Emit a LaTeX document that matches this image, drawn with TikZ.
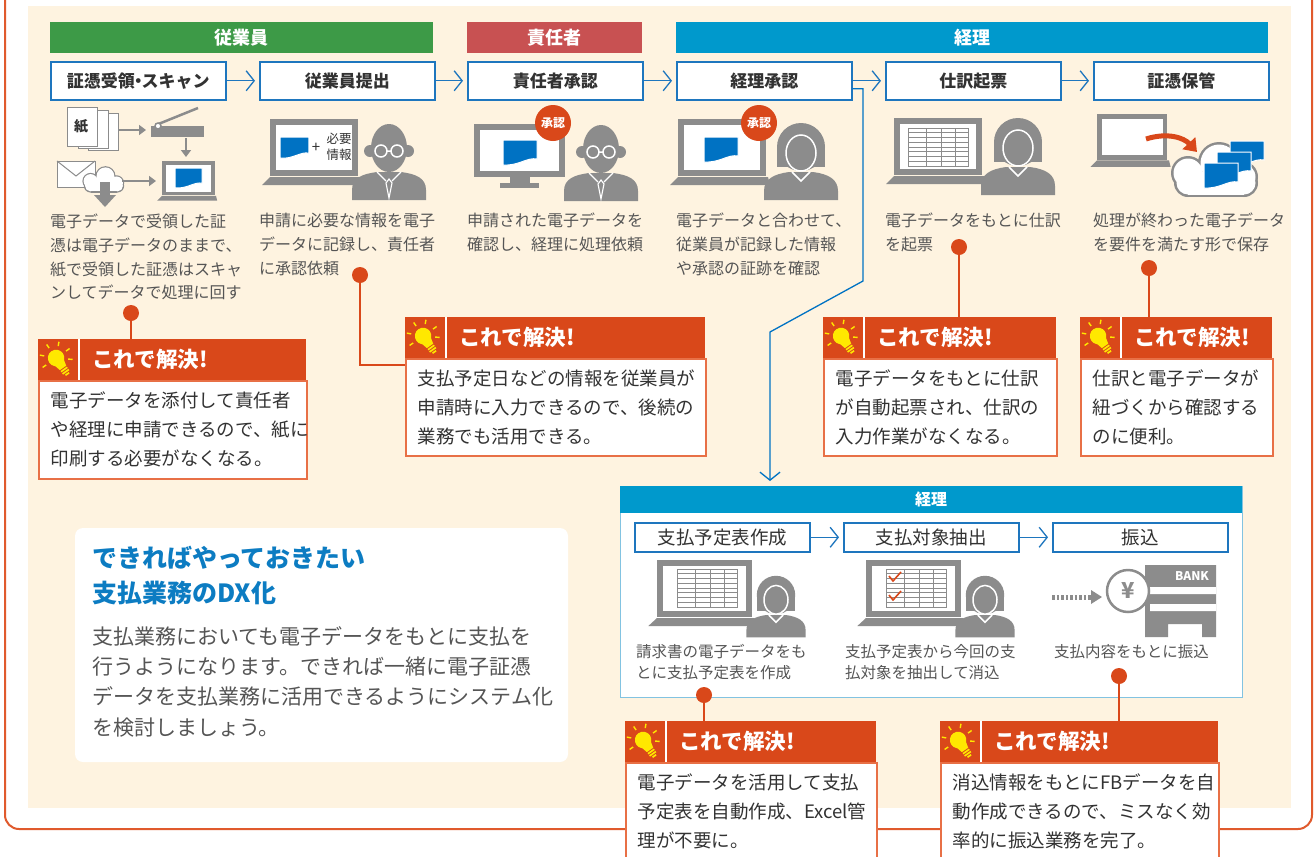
\documentclass[tikz,border=0pt]{standalone}
\usepackage{fontspec}
\setmainfont{Noto Sans CJK JP}
\usetikzlibrary{arrows.meta}

\definecolor{cream}{RGB}{254,243,224}
\definecolor{frameorange}{RGB}{224,90,45}
\definecolor{solorange}{RGB}{217,72,26}
\definecolor{solline}{RGB}{232,112,70}
\definecolor{empgreen}{RGB}{61,154,71}
\definecolor{mgrred}{RGB}{200,81,82}
\definecolor{acctblue}{RGB}{0,153,204}
\definecolor{boxblue}{RGB}{30,118,190}
\definecolor{paleblue}{RGB}{130,195,225}
\definecolor{docblue}{RGB}{0,114,195}
\definecolor{titleblue}{RGB}{12,124,194}
\definecolor{icongray}{RGB}{140,140,140}
\definecolor{descgray}{RGB}{85,85,85}
\definecolor{bodygray}{RGB}{50,50,50}
\definecolor{bulbyellow}{RGB}{255,232,0}

\begin{document}
\begin{tikzpicture}[x=1pt, y=-1pt,
lane/.style={fill=#1, text=white, anchor=north west, inner sep=0pt, minimum height=31pt, font=\fontsize{18}{18}\selectfont\bfseries},
stepbox/.style={draw=boxblue, line width=1.6pt, fill=white, anchor=north west, minimum width=175pt, minimum height=38pt, inner sep=0pt, text=bodygray, font=\fontsize{17}{17}\selectfont\bfseries},
substep/.style={stepbox, minimum height=29pt, font=\fontsize{18.5}{18.5}\selectfont},
flow/.style={draw=boxblue, line width=1.3pt, shorten >=4pt, -{Straight Barb[length=8pt,width=20pt]}},
garrow/.style={draw=icongray, line width=2.5pt, -{Triangle[length=7pt,width=10pt]}},
desc/.style={anchor=north west, align=left, inner sep=0pt, text=descgray, font=\fontsize{16}{23.7}\selectfont},
smalldesc/.style={desc, font=\fontsize{15.5}{21.5}\selectfont},
dot/.style={circle, fill=solorange, inner sep=0pt, minimum size=16pt},
link/.style={draw=solorange, line width=2.5pt},
badge/.style={circle, fill=solorange, text=white, inner sep=0pt, minimum size=36pt, font=\fontsize{12}{12}\selectfont\bfseries},
solhead/.style={fill=solorange, anchor=north west, inner sep=0pt, minimum height=41pt},
soltitle/.style={anchor=west, inner sep=0pt, text=white, font=\fontsize{21.5}{21.5}\selectfont\bfseries},
solbody/.style={draw=solline, line width=1.5pt, fill=white, anchor=north west, inner xsep=12pt, inner ysep=0pt, align=left, text=bodygray, font=\fontsize{18.5}{29}\selectfont},
pics/laptop/.style={code={
  \fill[icongray] (0,0) rectangle (88,57);
  \fill[white] (6,6) rectangle (82,51);
  \fill[icongray] (0,58) -- (90,58) -- (92,66) -- (-8,66) -- cycle;
}},
pics/monitor/.style={code={
  \fill[icongray] (0,0) rectangle (91,53);
  \fill[white] (6,6) rectangle (85,47);
  \fill[icongray] (36,53) rectangle (56,59);
  \fill[icongray] (26,59) rectangle (65,64);
}},
pics/doc/.style={code={
  \filldraw[fill=docblue, draw=white, line width=1pt] (0,0) -- (34,0) -- (34,19) .. controls (24,17) and (16,26) .. (0,25) -- cycle;
}},
pics/sheet/.style={code={
  \fill[white] (0,0) rectangle (60,38);
  \foreach \r in {1,...,7}
    \draw[icongray, line width=0.8pt] (0,\r*4.75) -- (60,\r*4.75);
  \foreach \c in {18,33,47}
    \draw[icongray, line width=0.8pt] (\c,0) -- (\c,38);
  \draw[icongray, line width=0.8pt] (0,0) rectangle (60,38);
}},
pics/male/.style={code={
  \fill[icongray] (-37,52) -- (-37,42) .. controls (-37,30) and (-27,26) .. (-12,24) -- (12,24) .. controls (27,26) and (37,30) .. (37,42) -- (37,52) -- cycle;
  \draw[white, line width=1.3pt] (-12,24) -- (-3,33) (12,24) -- (3,33);
  \draw[white, line width=1.1pt] (0,31) -- (-3,35) -- (0,50) -- (3,35) -- cycle;
  \fill[icongray] (-19,3) circle (6) (19,3) circle (6);
  \fill[icongray] (0,0) ellipse (18 and 24);
  \draw[white, line width=1.5pt] (-8,3) circle (6) (8,3) circle (6) (-2,3) -- (2,3);
}},
pics/female/.style={code={
  \fill[icongray] (-37,53) -- (-37,44) .. controls (-37,32) and (-27,27) .. (-12,25) -- (12,25) .. controls (27,27) and (37,32) .. (37,44) -- (37,53) -- cycle;
  \fill[icongray] (0,0) circle (24);
  \fill[icongray] (-24,0) rectangle (24,20);
  \filldraw[fill=icongray, draw=white, line width=1.5pt] (0,6) ellipse (15 and 18);
  \draw[white, line width=1.5pt] (-9,25) -- (0,34) -- (9,25);
}},
pics/cloud/.style={code={
  \fill[icongray] (-28,-2) circle (17) (3,-12) circle (21) (26,2) circle (16) (-28,8) circle (14) (28,8) circle (14);
  \fill[icongray] (-28,-6) rectangle (28,22);
  \fill[white] (-28,-2) circle (14.5) (3,-12) circle (18.5) (26,2) circle (13.5) (-28,8) circle (11.5) (28,8) circle (11.5);
  \fill[white] (-28,-3.5) rectangle (28,19.5);
}},
pics/bulb/.style={code={
  \fill[bulbyellow] (0,-3) circle (7.5);
  \fill[bulbyellow] (-5.5,0) -- (5.5,0) -- (3.5,8) -- (-3.5,8) -- cycle;
  \fill[bulbyellow] (-3.5,9) rectangle (3.5,10.5) (-3.5,11.5) rectangle (3.5,13) (-2,14) rectangle (2,15.5);
  \foreach \a in {-180,-135,-90,-45,0,40}
    \draw[bulbyellow, line width=1.4pt, shift={(0,-3)}] (\a:11) -- (\a:15);
}}
]
\useasboundingbox (0,0) rectangle (1315,857);
\fill[white] (0,0) rectangle (1315,857);
\draw[frameorange, line width=2pt, rounded corners=14pt] (5,-10) -- (5,829) -- (1312,829) -- (1312,-10);
\fill[cream] (28,6) rectangle (1291,808);

\node[lane=empgreen, minimum width=383pt] (laneEmp) at (50,22) {従業員};
\node[lane=mgrred, minimum width=175pt] (laneMgr) at (467,22) {責任者};
\node[lane=acctblue, minimum width=592pt] (laneAcct) at (676,22) {経理};

\node[stepbox] (scan) at (50,61) {証憑受領\kern-0.3em・\kern-0.3em スキャン};
\node[stepbox] (submit) at (259,61) {従業員提出};
\node[stepbox] (approve) at (467,61) {責任者承認};
\node[stepbox] (check) at (676,61) {経理承認};
\node[stepbox] (journal) at (885,61) {仕訳起票};
\node[stepbox] (store) at (1093,61) {証憑保管};
\foreach \a/\b in {scan/submit, submit/approve, approve/check, check/journal, journal/store}
  \draw[flow] (\a) -- (\b);

% paper and mail into the scanner
\filldraw[fill=white, draw=icongray, line width=1pt] (88,113) rectangle (118,150);
\filldraw[fill=white, draw=icongray, line width=1pt] (78,110) rectangle (108,148);
\filldraw[fill=white, draw=icongray, line width=1pt] (67,107) rectangle (97,146);
\node[font=\fontsize{14}{14}\selectfont\bfseries, text=bodygray] (paper) at (81,126) {紙};
\draw[garrow] (119,130) -- (146,130);
\fill[icongray] (151,126) rectangle (204,137);
\draw[icongray, line width=2.5pt] (156,125) -- (198,108);
\filldraw[fill=white, draw=icongray, line width=1.5pt] (158,126) circle (3);
\draw[garrow] (186,138) -- (186,157);
\filldraw[fill=white, draw=icongray, line width=1pt] (57,161) rectangle (95,187);
\draw[icongray, line width=1pt] (57,161) -- (76,176) -- (95,161);
\pic[scale=0.48] at (104,182) {cloud};
\fill[icongray] (100,182) rectangle (110,195);
\fill[icongray] (94,195) -- (116,195) -- (105,207) -- cycle;
\draw[garrow] (122,181) -- (156,181);
\pic[scale=0.6] at (162,161) {laptop};
\pic[scale=0.8] at (175,168) {doc};

% employee
\pic at (270,119) {laptop};
\pic[scale=0.85] at (280,137) {doc};
\node[font=\fontsize{15}{15}\selectfont, text=bodygray] (plus) at (316,148) {+};
\node[align=center, inner sep=0pt, font=\fontsize{12.5}{16}\selectfont, text=bodygray] (need) at (339,147) {必要\\情報};
\pic at (389,148) {male};

% manager
\pic at (474,124) {monitor};
\pic at (503,140) {doc};
\node[badge] (stampMgr) at (553,123) {承認};
\pic at (601,149) {male};

% accounting check
\pic at (678,119) {laptop};
\pic at (704,137) {doc};
\node[badge] (stampAcct) at (759,123) {承認};
\pic at (801,147) {female};

% journal entry
\pic at (894,118) {laptop};
\pic at (908,128) {sheet};
\pic at (1018,142) {female};

% storage
\pic[scale=0.8] at (1097,114) {laptop};
\pic at (1216,175) {cloud};
\pic at (1230,141) {doc};
\pic at (1217,152) {doc};
\pic at (1204,163) {doc};
\draw[solorange, line width=5pt, -{Triangle[length=12pt,width=17pt]}] (1146,139) .. controls (1168,132) and (1184,138) .. (1197,152);

\node[desc] (dScan) at (50,214) {電子データで受領した証\\憑は電子データのままで、\\紙で受領した証憑はスキャ\\ンしてデータで処理に回す};
\node[desc] (dSubmit) at (259,213) {申請に必要な情報を電子\\データに記録し、責任者\\に承認依頼};
\node[desc] (dApprove) at (467,213) {申請された電子データを\\確認し、経理に処理依頼};
\node[desc] (dCheck) at (676,213) {電子データと合わせて、\\従業員が記録した情報\\や承認の証跡を確認};
\node[desc] (dJournal) at (885,213) {電子データをもとに仕訳\\を起票};
\node[desc] (dStore) at (1093,213) {処理が終わった電子データ\\を要件を満たす形で保存};

% branch to the payment lane
\coordinate (bend1) at (863,281);
\coordinate (bend2) at (770,332);
\node[draw=paleblue, line width=1.2pt, fill=white, anchor=north west, minimum width=622pt, minimum height=211pt, inner sep=0pt] (payBox) at (620,486) {};
\node[lane=acctblue, minimum width=622pt, minimum height=27pt, font=\fontsize{16}{16}\selectfont\bfseries] (payLane) at (620,486) {経理};
\draw[flow, draw=docblue, shorten >=5pt] ([yshift=-8pt]check.east) -| (bend1) -- (bend2) -- (bend2 |- payLane.north);

\node[substep] (plan) at (634,522) {支払予定表作成};
\node[substep] (pick) at (843,522) {支払対象抽出};
\node[substep] (transfer) at (1052,522) {振込};
\foreach \a/\b in {plan/pick, pick/transfer}
  \draw[flow] (\a) -- (\b);

\pic[xscale=1.08] at (657,560) {laptop};
\pic at (677,569) {sheet};
\pic[scale=0.8] at (776,595) {female};
\pic[xscale=1.08] at (866,560) {laptop};
\pic at (886,569) {sheet};
\draw[solorange, line width=1.6pt] (889,576) -- (893,581) -- (901,572);
\draw[solorange, line width=1.6pt] (889,595) -- (893,600) -- (901,591);
\pic[scale=0.8] at (985,595) {female};

\draw[icongray, line width=5pt, dash pattern=on 2.5pt off 2pt] (1052,597) -- (1091,597);
\fill[icongray] (1091,590) -- (1102,597) -- (1091,604) -- cycle;
\fill[icongray] (1145,565) -- (1216,565) -- (1216,637) -- (1202,637) -- (1202,624) -- (1168,624) -- (1168,637) -- (1145,637) -- cycle;
\fill[white] (1150,587) rectangle (1216,594) (1150,604) rectangle (1216,611);
\node[text=white, font=\fontsize{12}{12}\selectfont\bfseries] (bankName) at (1192,576) {BANK};
\filldraw[fill=white, draw=icongray, line width=2.5pt] (1128,591) circle (21);
\node[text=icongray, font=\fontsize{22}{22}\selectfont\bfseries] (yen) at (1128,591) {¥};

\node[smalldesc] (dPlan) at (636,644) {請求書の電子データをも\\とに支払予定表を作成};
\node[smalldesc] (dPick) at (845,644) {支払予定表から今回の支\\払対象を抽出して消込};
\node[smalldesc] (dTransfer) at (1054,644) {支払内容をもとに振込};

% DX note
\fill[white, rounded corners=8pt] (75,528) rectangle (568,762);
\node[anchor=north west, inner sep=0pt, align=left, text=titleblue, font=\fontsize{25}{35}\selectfont\bfseries] (dxTitle) at (92,546) {できればやっておきたい\\支払業務のDX化};
\node[anchor=north west, inner sep=0pt, align=left, text=descgray, font=\fontsize{21}{30.3}\selectfont] (dxText) at (92,626) {支払業務においても電子データをもとに支払を\\行うようになります。できれば一緒に電子証憑\\データを支払業務に活用できるようにシステム化\\を検討しましょう。};

% solutions
\node[dot] (dotA) at (131,313) {};
\node[dot] (dotB) at (360,275) {};
\node[dot] (dotC) at (959,247) {};
\node[dot] (dotD) at (1149,268) {};
\node[dot] (dotE) at (704,695) {};
\node[dot] (dotF) at (1119,676) {};
\coordinate (joinB) at (405,365);
\draw[link] (dotA) -- ++(0,30);
\draw[link] (dotB) |- (joinB);
\draw[link] (dotC) -- ++(0,75);
\draw[link] (dotD) -- ++(0,55);
\draw[link] (dotE) -- ++(0,30);
\draw[link] (dotF) -- ++(0,50);

\node[solbody, text width=244pt, minimum height=98pt] (bodyA) at (38,380) {電子データを添付して責任者\\や経理に申請できるので、紙に\\印刷する必要がなくなる。};
\node[solbody, text width=276pt, minimum height=97pt] (bodyB) at (405,358) {支払予定日などの情報を従業員が\\申請時に入力できるので、後続の\\業務でも活用できる。};
\node[solbody, text width=209pt, minimum height=97pt] (bodyC) at (823,358) {電子データをもとに仕訳\\が自動起票され、仕訳の\\入力作業がなくなる。};
\node[solbody, text width=168pt, minimum height=97pt] (bodyD) at (1080,358) {仕訳と電子データが\\紐づくから確認する\\のに便利。};
\node[solbody, text width=227pt, minimum height=98pt] (bodyE) at (625,762) {電子データを活用して支払\\予定表を自動作成、Excel管\\理が不要に。};
\node[solbody, text width=254pt, minimum height=98pt] (bodyF) at (940,762) {消込情報をもとにFBデータを自\\動作成できるので、ミスなく効\\率的に振込業務を完了。};

\foreach \n/\x/\y/\w in {A/38/339/268, B/405/317/300, C/823/317/233, D/1080/317/192, E/625/721/251, F/940/721/278}{
  \node[solhead, minimum width=\w pt] (head\n) at (\x,\y) {};
  \draw[white, line width=1.5pt] ([xshift=41pt]head\n.north west) -- ([xshift=41pt]head\n.south west);
  \pic[rotate=35, scale=1.1] at ([xshift=20pt, yshift=-1pt]head\n.west) {bulb};
  \node[soltitle] (title\n) at ([xshift=54pt]head\n.west) {これで解決!};
}
\end{tikzpicture}
\end{document}
